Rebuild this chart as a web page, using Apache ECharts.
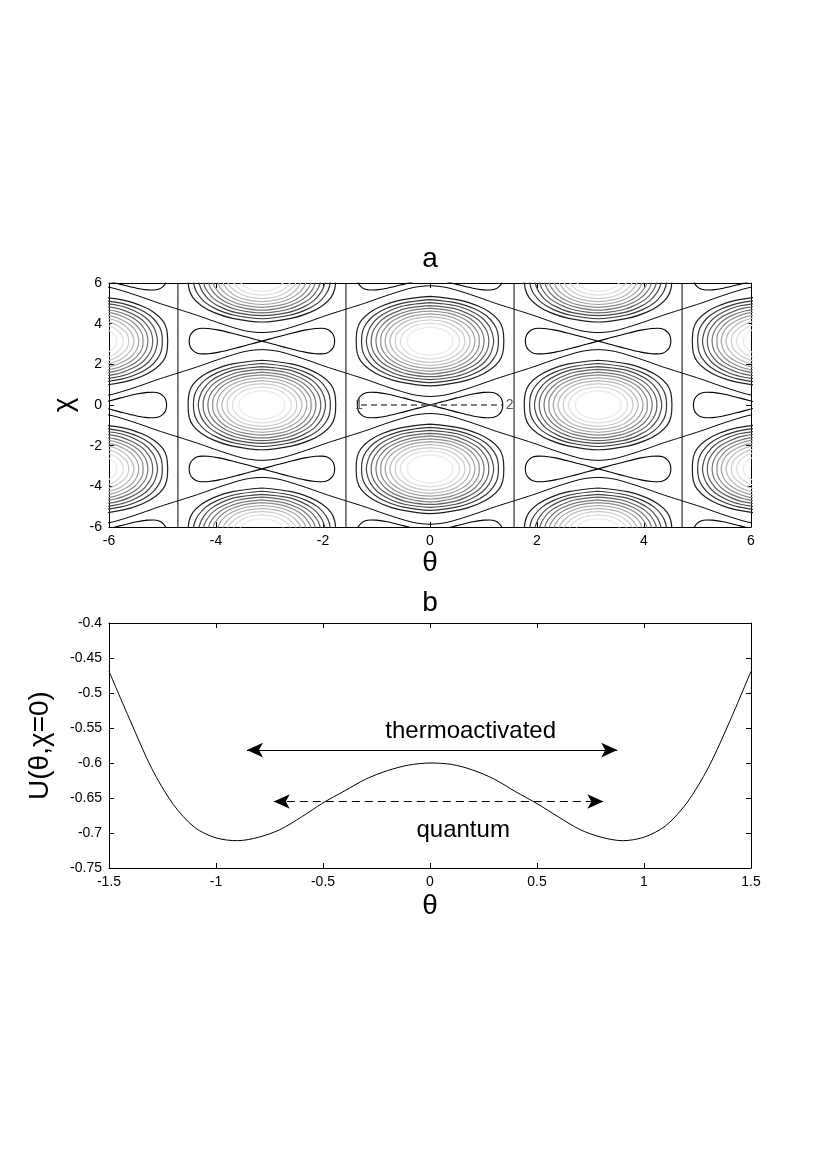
<!DOCTYPE html>
<html><head><meta charset="utf-8">
<script src="https://cdn.jsdelivr.net/npm/echarts@6/dist/echarts.min.js"></script>
<style>html,body{margin:0;padding:0;background:#fff}#c{width:830px;height:1175px}</style>
</head><body><div id="c"></div>
<script>
// ================= Panel a : contour map of U(theta, chi) =================
const thetaRangeA = [-6, 6];
const chiRangeA = [-6, 6];
const tickStepA = 2;

// Closed contour rings around each maximum, first-quadrant points [dTheta, dChi]
// from the top of the ring to its right end (outer ring -> inner ring).
const ring1  = [[0,2.20],[0.55,2.02],[0.90,1.73],[1.13,1.40],[1.29,1.00],[1.36,0.59],[1.38,0]];
const ring2  = [[0,2.04],[0.51,1.87],[0.83,1.59],[1.05,1.26],[1.19,0.86],[1.26,0.48],[1.28,0]];
const ring3  = [[0,1.89],[0.48,1.74],[0.77,1.47],[0.97,1.15],[1.10,0.76],[1.16,0.42],[1.19,0]];
const ring4  = [[0,1.75],[0.44,1.61],[0.71,1.35],[0.90,1.05],[1.02,0.69],[1.08,0.37],[1.10,0]];
const ring5  = [[0,1.62],[0.40,1.48],[0.66,1.24],[0.83,0.95],[0.94,0.62],[0.99,0.34],[1.01,0]];
const ring6  = [[0,1.48],[0.37,1.36],[0.60,1.14],[0.76,0.87],[0.86,0.56],[0.91,0.31],[0.92,0]];
const ring7  = [[0,1.34],[0.33,1.23],[0.54,1.03],[0.69,0.78],[0.78,0.51],[0.82,0.28],[0.84,0]];
const ring8  = [[0,1.20],[0.30,1.10],[0.49,0.92],[0.61,0.69],[0.69,0.45],[0.73,0.24],[0.75,0]];
const ring9  = [[0,1.05],[0.26,0.96],[0.42,0.80],[0.53,0.60],[0.61,0.39],[0.64,0.21],[0.65,0]];
const ring10 = [[0,0.88],[0.22,0.81],[0.36,0.67],[0.45,0.51],[0.51,0.33],[0.54,0.18],[0.55,0]];
const ring11 = [[0,0.69],[0.17,0.63],[0.28,0.52],[0.35,0.40],[0.40,0.25],[0.42,0.13],[0.43,0]];
const ringQuadrants = [ring1, ring2, ring3, ring4, ring5, ring6, ring7, ring8, ring9, ring10, ring11];
const ringGrays = ['#1e1e1e','#333333','#484848','#5e5e5e','#747474','#8a8a8a','#a0a0a0','#b6b6b6','#cbcbcb','#dcdcdc','#ebebeb'];

// centres of the ring families (maxima)
const ellipseCenters = [[-6.283,-3.142],[-6.283,3.142],[-3.142,-6.283],[-3.142,0],[-3.142,6.283],
  [0,-3.142],[0,3.142],[3.142,-6.283],[3.142,0],[3.142,6.283],[6.283,-3.142],[6.283,3.142]];

// figure-eight (saddle level) : upper edge of the right lobe, from the crossing to the tip
const lobeHalf = [[0,0],[0.2,0.14],[0.5,0.35],[0.8,0.54],[1.0,0.62],[1.12,0.63],[1.22,0.58],[1.29,0.46],[1.34,0.28],[1.36,0]];
// centres of the figure-eights (saddles)
const lemniscateCenters = [[-6.283,-6.283],[-6.283,0],[-6.283,6.283],[-3.142,-3.142],[-3.142,3.142],
  [0,-6.283],[0,0],[0,6.283],[3.142,-3.142],[3.142,3.142],[6.283,-6.283],[6.283,0],[6.283,6.283]];
// separatrix branch above each saddle: [dTheta, dChi] for the right half
const separatrixHalf = [[0,0.42],[0.3,0.50],[0.6,0.72],[0.9,0.98],[1.2,1.26],[1.571,1.571]];
// straight vertical separatrices
const verticalSeparatrixTheta = [-4.712, -1.571, 1.571, 4.712];

// tunnelling path 1 -> 2 along chi = 0
const tunnelPathTheta = [-1.29, 1.35];
const pathLabelText = ['1', '2'];
const pathLabelTheta = [-1.33, 1.49];

// ================= Panel b : U(theta, chi = 0) =================
const thetaRangeB = [-1.5, 1.5];
const tickStepB = 0.5;
const uRangeB = [-0.75, -0.4];
const tickStepU = 0.05;
const thetaB = [-1.5,-1.4,-1.3,-1.2,-1.1,-1.0,-0.9,-0.8,-0.7,-0.6,-0.5,-0.4,-0.3,-0.2,-0.1,0,
  0.1,0.2,0.3,0.4,0.5,0.6,0.7,0.8,0.9,1.0,1.1,1.2,1.3,1.4,1.5];
const U0 = [-0.469,-0.540,-0.608,-0.659,-0.692,-0.707,-0.711,-0.706,-0.695,-0.677,-0.657,-0.640,-0.623,-0.611,-0.603,-0.600,
  -0.602,-0.610,-0.623,-0.641,-0.658,-0.677,-0.695,-0.706,-0.711,-0.706,-0.690,-0.657,-0.607,-0.541,-0.469];
const thermoArrowTheta = [-0.855, 0.875];
const thermoArrowU = -0.5815;
const quantumArrowTheta = [-0.73, 0.81];
const quantumArrowU = -0.655;
const annotationText = ['thermoactivated', 'quantum'];
const annotationTheta = [0.19, 0.155];
const annotationU = [-0.555, -0.696];

// ================= build geometry from the arrays =================
const GAP = [NaN, NaN];
function mirrorLoop(q) {
  const pts = [];
  for (let i = 0; i < q.length; i++) pts.push([q[i][0], q[i][1]]);
  for (let i = q.length - 2; i >= 0; i--) pts.push([q[i][0], -q[i][1]]);
  for (let i = 1; i < q.length; i++) pts.push([-q[i][0], -q[i][1]]);
  for (let i = q.length - 2; i >= 0; i--) pts.push([-q[i][0], q[i][1]]);
  return pts;
}
function figureEight(h) {
  const pts = [];
  const n = h.length;
  for (let i = 0; i < n; i++) pts.push([h[i][0], h[i][1]]);
  for (let i = n - 2; i >= 0; i--) pts.push([h[i][0], -h[i][1]]);
  for (let i = 1; i < n; i++) pts.push([-h[i][0], h[i][1]]);
  for (let i = n - 2; i >= 0; i--) pts.push([-h[i][0], -h[i][1]]);
  return pts;
}
function branch(h, sign) {
  const pts = [];
  for (let i = h.length - 1; i >= 1; i--) pts.push([-h[i][0], sign * h[i][1]]);
  for (let i = 0; i < h.length; i++) pts.push([h[i][0], sign * h[i][1]]);
  return pts;
}
function tile(shape, centers) {
  const out = [];
  centers.forEach(c => {
    shape.forEach(p => out.push([c[0] + p[0], c[1] + p[1]]));
    out.push(GAP);
  });
  return out;
}

const FONT = 'Liberation Sans, Arial, Helvetica, sans-serif';
const series = [];

ringQuadrants.forEach((q, i) => {
  series.push({
    type: 'line', xAxisIndex: 0, yAxisIndex: 0, data: tile(mirrorLoop(q), ellipseCenters),
    symbol: 'none', smooth: 0.35, connectNulls: false, clip: true, silent: true,
    lineStyle: { color: ringGrays[i], width: 1.2 }, z: 2
  });
});

const sepData = tile(branch(separatrixHalf, 1), lemniscateCenters)
  .concat(tile(branch(separatrixHalf, -1), lemniscateCenters));
verticalSeparatrixTheta.forEach(t => { sepData.push([t, chiRangeA[0]], [t, chiRangeA[1]], GAP); });
series.push({
  type: 'line', xAxisIndex: 0, yAxisIndex: 0, data: sepData, symbol: 'none', smooth: 0.3,
  connectNulls: false, clip: true, silent: true, lineStyle: { color: '#000', width: 1 }, z: 3
});
series.push({
  type: 'line', xAxisIndex: 0, yAxisIndex: 0, data: tile(figureEight(lobeHalf), lemniscateCenters),
  symbol: 'none', smooth: 0.35, connectNulls: false, clip: true, silent: true,
  lineStyle: { color: '#000', width: 1.1 }, z: 3
});
series.push({
  type: 'line', xAxisIndex: 0, yAxisIndex: 0,
  data: [[tunnelPathTheta[0], 0], [tunnelPathTheta[1], 0]], symbol: 'none', silent: true,
  lineStyle: { color: '#555', width: 1.3, type: [6, 4] }, z: 4
});
series.push({
  type: 'scatter', xAxisIndex: 0, yAxisIndex: 0, symbolSize: 0, silent: true,
  itemStyle: { opacity: 1 },
  data: pathLabelTheta.map((t, i) => ({ value: [t, 0], name: pathLabelText[i] })),
  label: { show: true, position: 'inside', formatter: p => p.name, color: '#555', fontSize: 14, fontFamily: FONT, opacity: 1 }, z: 5
});

// panel b
series.push({
  type: 'line', xAxisIndex: 2, yAxisIndex: 2, data: thetaB.map((t, i) => [t, U0[i]]),
  symbol: 'none', smooth: 0.3, silent: true, lineStyle: { color: '#000', width: 1 },
  markLine: {
    silent: true, symbol: ['arrow', 'arrow'], symbolSize: [11, 16], label: { show: false },
    data: [
      [{ coord: [thermoArrowTheta[0], thermoArrowU], lineStyle: { color: '#000', width: 1, type: 'solid' } },
       { coord: [thermoArrowTheta[1], thermoArrowU] }],
      [{ coord: [quantumArrowTheta[0], quantumArrowU], lineStyle: { color: '#000', width: 1, type: [8, 5] } },
       { coord: [quantumArrowTheta[1], quantumArrowU] }]
    ],
    itemStyle: { color: '#000' }
  }
});
series.push({
  type: 'scatter', xAxisIndex: 2, yAxisIndex: 2, symbolSize: 0, silent: true,
  itemStyle: { opacity: 1 },
  data: annotationTheta.map((t, i) => ({ value: [t, annotationU[i]], name: annotationText[i] })),
  label: { show: true, position: 'inside', formatter: p => p.name, color: '#000', fontSize: 24, fontFamily: FONT, opacity: 1 }
});

function xAx(grid, range, step, pos, name, gap) {
  return {
    gridIndex: grid, type: 'value', min: range[0], max: range[1], interval: step, position: pos,
    axisLine: { show: true, onZero: false, lineStyle: { color: '#000', width: 1 } },
    axisTick: { show: true, inside: true, length: 5, lineStyle: { color: '#000' } },
    axisLabel: { show: pos === 'bottom', color: '#000', fontSize: 14, fontFamily: FONT, margin: 7, showMinLabel: true, showMaxLabel: true },
    splitLine: { show: false },
    name: name, nameLocation: 'middle', nameGap: gap,
    nameTextStyle: { fontSize: 28, color: '#000', fontFamily: FONT }
  };
}
function yAx(grid, range, step, pos, name, gap) {
  return {
    gridIndex: grid, type: 'value', min: range[0], max: range[1], interval: step, position: pos,
    axisLine: { show: true, onZero: false, lineStyle: { color: '#000', width: 1 } },
    axisTick: { show: true, inside: true, length: 5, lineStyle: { color: '#000' } },
    axisLabel: { show: pos === 'left', color: '#000', fontSize: 14, fontFamily: FONT, margin: 7, showMinLabel: true, showMaxLabel: true },
    splitLine: { show: false },
    name: name, nameLocation: 'middle', nameGap: gap, nameRotate: 90,
    nameTextStyle: { fontSize: 28, color: '#000', fontFamily: FONT }
  };
}

const option = {
  animation: false,
  backgroundColor: '#fff',
  textStyle: { fontFamily: FONT },
  grid: [
    { left: 109, top: 283, width: 642, height: 244, containLabel: false, outerBoundsMode: 'none' },
    { left: 109, top: 623, width: 642, height: 245, containLabel: false, outerBoundsMode: 'none' }
  ],
  xAxis: [
    xAx(0, thetaRangeA, tickStepA, 'bottom', 'θ', 22),
    xAx(0, thetaRangeA, tickStepA, 'top', '', 0),
    xAx(1, thetaRangeB, tickStepB, 'bottom', 'θ', 24),
    xAx(1, thetaRangeB, tickStepB, 'top', '', 0)
  ],
  yAxis: [
    yAx(0, chiRangeA, tickStepA, 'left', 'χ', 25),
    yAx(0, chiRangeA, tickStepA, 'right', '', 0),
    yAx(1, uRangeB, tickStepU, 'left', 'U(θ,χ=0)', 55),
    yAx(1, uRangeB, tickStepU, 'right', '', 0)
  ],
  graphic: [
    { type: 'text', x: 430, y: 259, style: { text: 'a', fontSize: 28, fontFamily: FONT, fill: '#000', textAlign: 'center', textVerticalAlign: 'middle' } },
    { type: 'text', x: 430, y: 603, style: { text: 'b', fontSize: 28, fontFamily: FONT, fill: '#000', textAlign: 'center', textVerticalAlign: 'middle' } }
  ],
  series: series
};
const chart = echarts.init(document.getElementById('c'), null, { renderer: 'canvas' });
chart.setOption(option);
</script></body></html>
